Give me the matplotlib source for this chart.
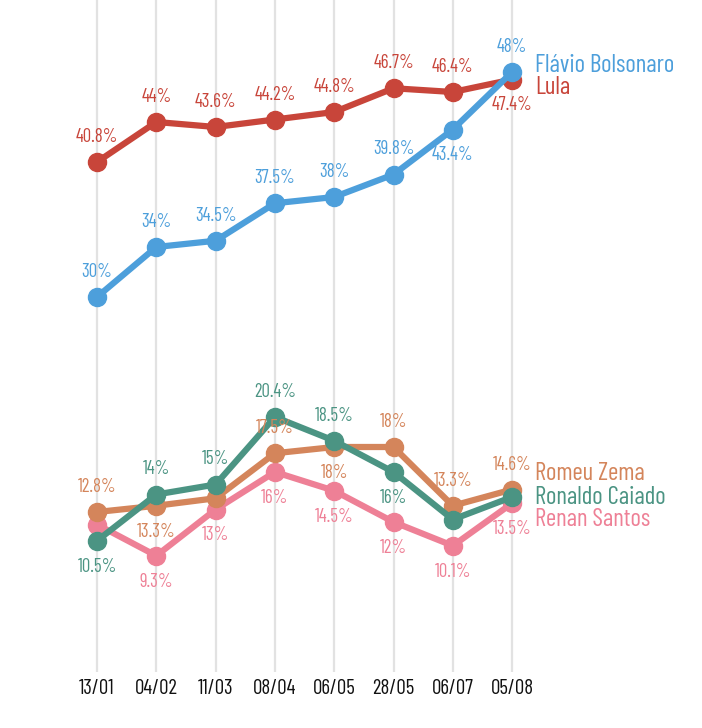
import matplotlib
matplotlib.use("Agg")
import matplotlib.pyplot as plt

# poll dates
dates = ["13/01", "04/02", "11/03", "08/04", "06/05", "28/05", "06/07", "05/08"]

# series values (%)
lula = [40.8, 44, 43.6, 44.2, 44.8, 46.7, 46.4, 47.4]
flavio = [30, 34, 34.5, 37.5, 38, 39.8, 43.4, 48]
zema = [12.8, 13.3, 13.9, 17.5, 18, 18, 13.3, 14.6]
caiado = [10.5, 14.2, 15, 20.4, 18.5, 16, 12.2, 14.0]
renan = [11.8, 9.3, 13, 16, 14.5, 12, 10.1, 13.5]

# labels shown on the chart (None = no label), 'a' above / 'b' below
lula_lab = ["40.8%", "44%", "43.6%", "44.2%", "44.8%", "46.7%", "46.4%", "47.4%"]
lula_pos = ["a", "a", "a", "a", "a", "a", "a", "b"]
flavio_lab = ["30%", "34%", "34.5%", "37.5%", "38%", "39.8%", "43.4%", "48%"]
flavio_pos = ["a", "a", "a", "a", "a", "a", "b", "a"]
zema_lab = ["12.8%", "13.3%", None, "17.5%", "18%", "18%", "13.3%", "14.6%"]
zema_pos = ["a", "b", "a", "a", "b", "a", "a", "a"]
caiado_lab = ["10.5%", "14%", "15%", "20.4%", "18.5%", "16%", None, None]
caiado_pos = ["b", "a", "a", "a", "a", "b", "a", "a"]
renan_lab = [None, "9.3%", "13%", "16%", "14.5%", "12%", "10.1%", "13.5%"]
renan_pos = ["b", "b", "b", "b", "b", "b", "b", "b"]

series = [
    ("Renan Santos", renan, renan_lab, renan_pos, "#ee8096", 520),
    ("Romeu Zema", zema, zema_lab, zema_pos, "#d4855b", 473),
    ("Ronaldo Caiado", caiado, caiado_lab, caiado_pos, "#4b9483", 497),
    ("Lula", lula, lula_lab, lula_pos, "#c8453a", 87),
    ("Flávio Bolsonaro", flavio, flavio_lab, flavio_pos, "#4d9fdb", 65),
]

font = ["Barlow Condensed", "Roboto Condensed", "Archivo Narrow",
        "Liberation Sans Narrow", "DejaVu Sans"]

W, H = 702, 728
fig = plt.figure(figsize=(W / 100, H / 100), dpi=100)
y0_px = 672
ax = fig.add_axes([0, (H - y0_px) / H, 1, y0_px / H])
step = 59.3
x0 = 97
ax.set_xlim(-x0 / step, (W - x0) / step)
ax.set_ylim(0, y0_px / 12.5)
ax.axis("off")

xs = list(range(len(dates)))
for x in xs:
    ax.axvline(x, color="#e2e2e2", lw=1.6, zorder=0)
    ax.text(x, -1.3, dates[x], ha="center", va="center", fontsize=15,
            family=font, color="#111111", clip_on=False)

for z, (name, vals, labs, pos, col, ypx) in enumerate(series):
    ax.plot(xs, vals, color=col, lw=4.5, marker="o", ms=13,
            solid_joinstyle="round", solid_capstyle="round", zorder=2 + z)
    for x, v, lab, p in zip(xs, vals, labs, pos):
        if lab is None:
            continue
        dy = 25 if p == "a" else -26
        ax.annotate(lab, (x, v), xytext=(0, dy * 0.72), textcoords="offset points",
                    ha="center", va="center", fontsize=13.5, family=font,
                    color=col, zorder=10)
    fig.text(535 / W, 1 - ypx / H, name, ha="left", va="center",
             fontsize=18, family=font, color=col)

fig.savefig("out.png", dpi=100)
